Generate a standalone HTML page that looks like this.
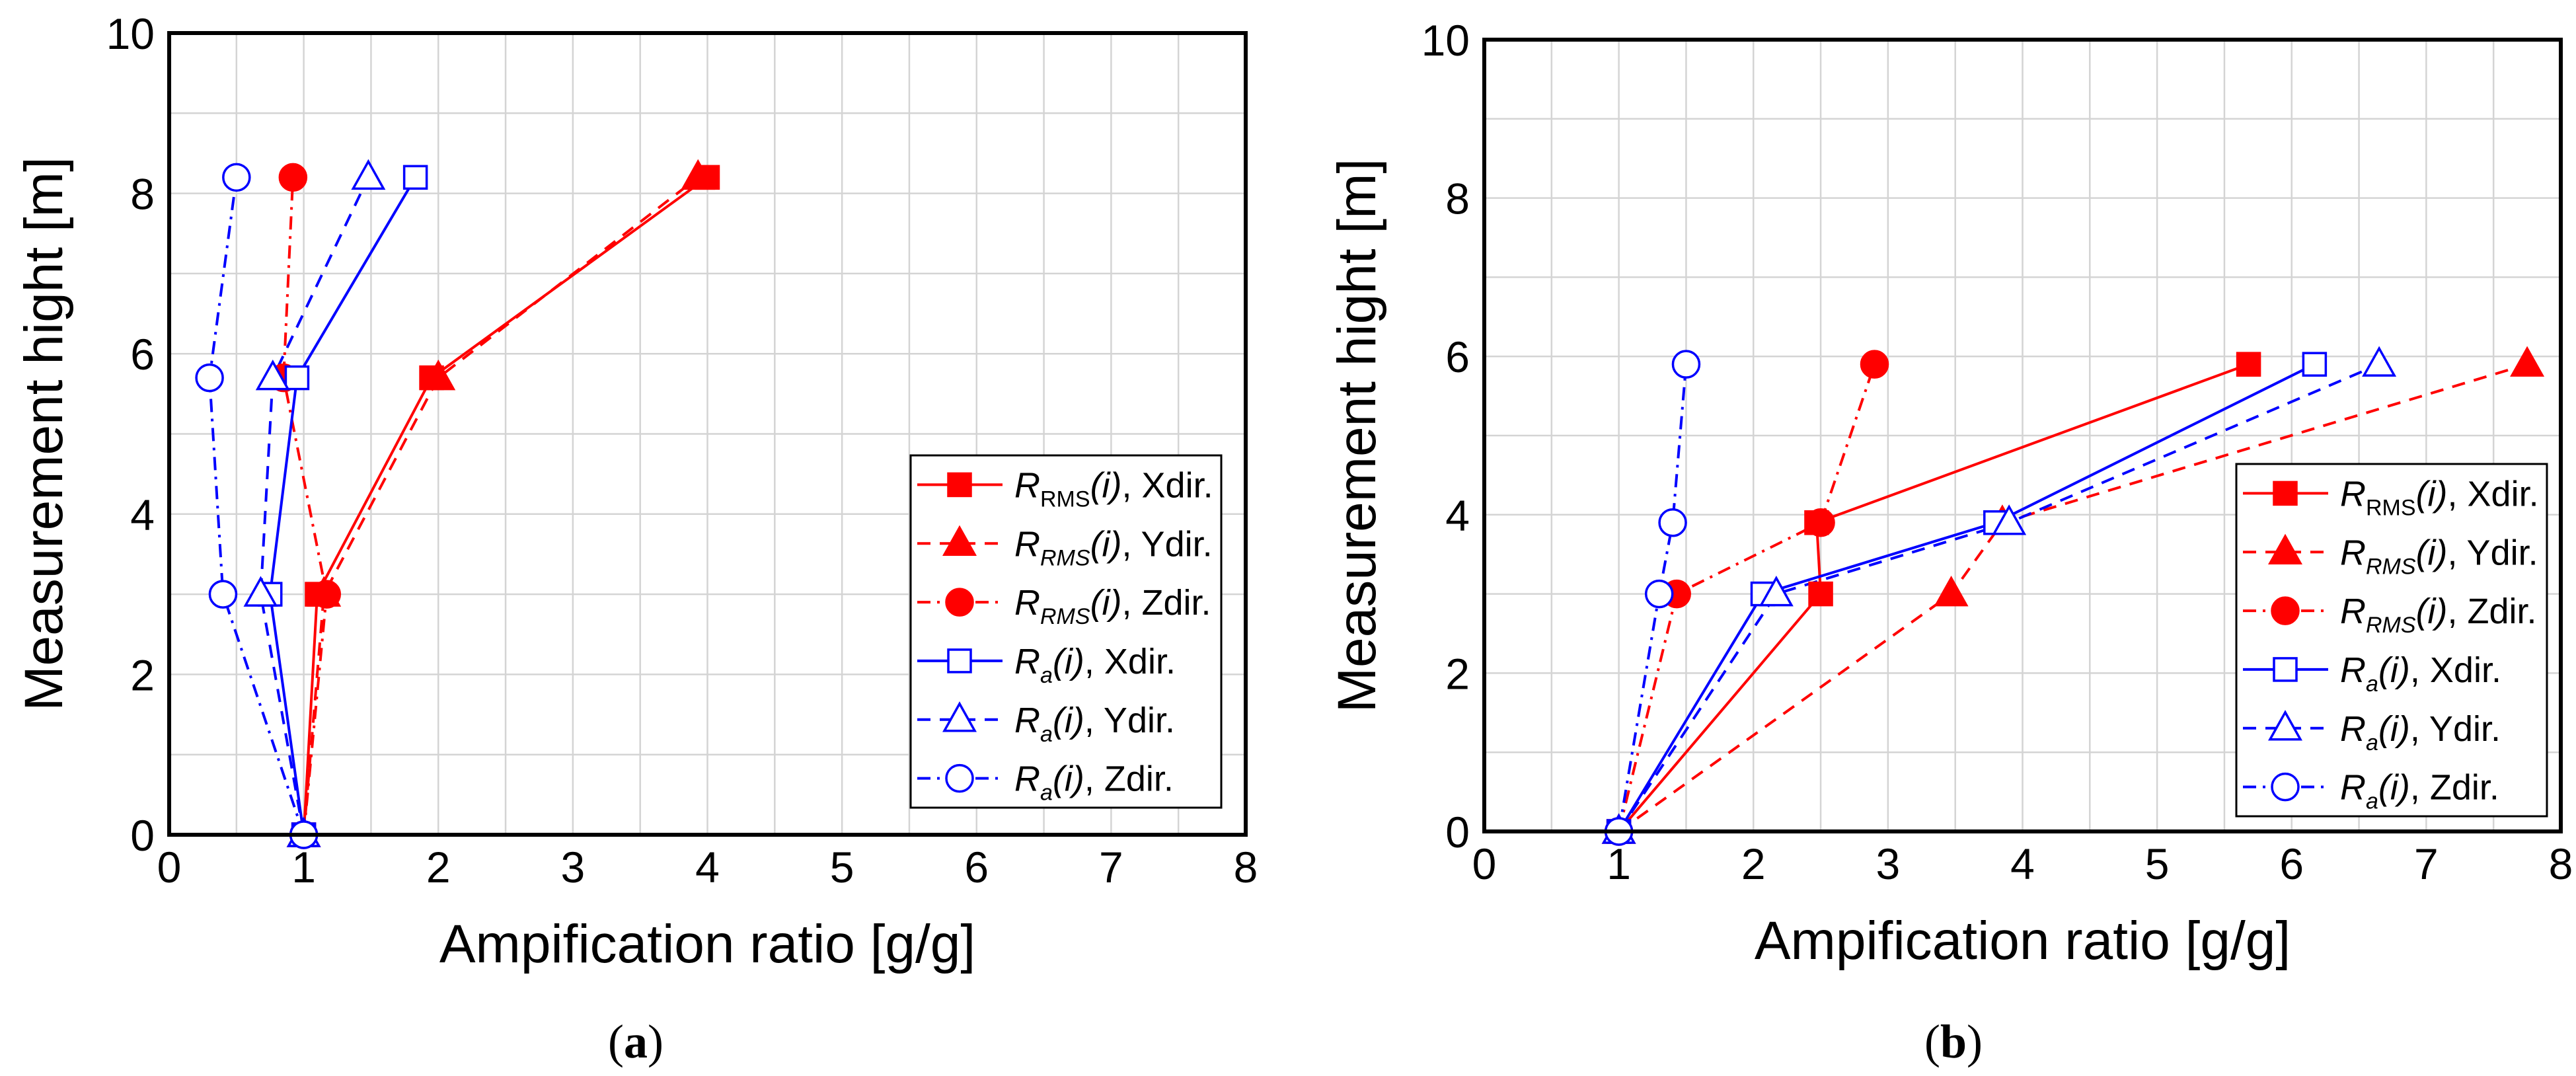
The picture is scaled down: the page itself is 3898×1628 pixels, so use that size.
<!DOCTYPE html>
<html><head><meta charset="utf-8"><style>
html,body{margin:0;padding:0;background:#fff;overflow:hidden}
svg{display:block;font-family:"Liberation Sans",sans-serif}
</style></head><body>
<svg id="s" width="3898" height="1628" viewBox="0 0 3898 1628"></svg>
<script>
const xTicks=[0,1,2,3,4,5,6,7,8];
const yTicks=[0,2,4,6,8,10];
const heightsA=[0,3,5.7,8.2];
const heightsB=[0,3,3.9,5.9];
const aRmsX=[1,1.1,1.95,4.0];
const aRmsY=[1,1.15,2.0,3.93];
const aRmsZ=[1,1.17,0.85,0.92];
const aRaX=[1,0.75,0.95,1.83];
const aRaY=[1,0.68,0.77,1.48];
const aRaZ=[1,0.4,0.3,0.5];
const bRmsX=[1,2.5,2.47,5.68];
const bRmsY=[1,3.47,3.85,7.75];
const bRmsZ=[1,1.43,2.5,2.9];
const bRaX=[1,2.07,3.8,6.17];
const bRaY=[1,2.17,3.9,6.65];
const bRaZ=[1,1.3,1.4,1.5];
const seriesNames=["rms-x","rms-y","rms-z","ra-x","ra-y","ra-z"];

const NS="http://www.w3.org/2000/svg";
const svg=document.getElementById('s');
function mk(tag,attrs,parent){const e=document.createElementNS(NS,tag);for(const k in attrs)e.setAttribute(k,attrs[k]);(parent||svg).appendChild(e);return e;}
const styles=[
 {c:'#ff0000',d:'',m:'sq',f:true},
 {c:'#ff0000',d:'20,14',m:'tri',f:true},
 {c:'#ff0000',d:'20,10,4,10',m:'ci',f:true},
 {c:'#0000ff',d:'',m:'sq',f:false},
 {c:'#0000ff',d:'20,14',m:'tri',f:false},
 {c:'#0000ff',d:'20,10,4,10',m:'ci',f:false}];
function marker(g,t,x,y,c,f){
 const a={fill:f?c:'#fff',stroke:c,'stroke-width':3.5};let e;
 if(t==='sq'){e=mk('rect',Object.assign({x:x-17,y:y-17,width:34,height:34},a),g);}
 else if(t==='tri'){e=mk('polygon',Object.assign({points:`${x},${y-24} ${x-23},${y+17} ${x+23},${y+17}`},a),g);}
 else{e=mk('circle',Object.assign({cx:x,cy:y,r:20},a),g);}
 
 
}
function panel(id,L,R,T,B,heights,data,leg,titleX,cap,capLabel){
 const g=mk('g',{});
 
 
 const sx=v=>L+(R-L)*v/8, sy=v=>B-(B-T)*v/10;
 for(let v=0.5;v<8;v+=0.5){const l=mk('line',{x1:sx(v),x2:sx(v),y1:T,y2:B,stroke:'#d4d4d4','stroke-width':2.5},g);}
 for(let v=1;v<10;v++){const l=mk('line',{x1:L,x2:R,y1:sy(v),y2:sy(v),stroke:'#d4d4d4','stroke-width':2.5},g);}
 xTicks.forEach(v=>{const t=mk('text',{x:sx(v),y:B+72,'font-size':66,'text-anchor':'middle'},g);t.textContent=v;});
 yTicks.forEach(v=>{const t=mk('text',{x:L-22,y:sy(v)+24,'font-size':66,'text-anchor':'end'},g);t.textContent=v;});
 data.forEach((arr,i)=>{const s=styles[i];
  const pl=mk('polyline',{points:arr.map((x,j)=>sx(x)+','+sy(heights[j])).join(' '),fill:'none',stroke:s.c,'stroke-width':4,'stroke-dasharray':s.d},g);
  
  });
 data.forEach((arr,i)=>{const s=styles[i];arr.forEach((x,j)=>marker(g,s.m,sx(x),sy(heights[j]),s.c,s.f));});
 const fr=mk('rect',{x:L,y:T,width:R-L,height:B-T,fill:'none',stroke:'#000','stroke-width':6},g);
 
 const xt=mk('text',{x:(L+R)/2,y:B+193,'font-size':82,'text-anchor':'middle'},g);xt.textContent='Ampification ratio [g/g]';
 
 const yt=mk('text',{x:0,y:0,'font-size':82,'text-anchor':'middle',transform:`translate(${titleX},${(T+B)/2}) rotate(-90)`},g);yt.textContent='Measurement hight [m]';
 
 const c=mk('text',{x:cap,y:1600,'font-size':72,'text-anchor':'middle','font-family':'Liberation Serif, serif'},g);
 c.innerHTML='(<tspan font-weight="bold">'+capLabel+'</tspan>)';
 
 const [lx,ly,lw,lh]=leg;
 const lg=mk('g',{},g);
 
 mk('rect',{x:lx,y:ly,width:lw,height:lh,fill:'#fff',stroke:'#000','stroke-width':3},lg);
 const labels=[['R','RMS',false,'Xdir.'],['R','RMS',true,'Ydir.'],['R','RMS',true,'Zdir.'],['R','a',true,'Xdir.'],['R','a',true,'Ydir.'],['R','a',true,'Zdir.']];
 const step=lh/6;
 labels.forEach((lb,i)=>{const s=styles[i];const yy=ly+step*(i+0.5);
  const e=mk('g',{},lg);
  mk('line',{x1:lx+10,x2:lx+139,y1:yy,y2:yy,stroke:s.c,'stroke-width':4,'stroke-dasharray':s.d},e);
  marker(e,s.m,lx+74,yy,s.c,s.f);
  const t=mk('text',{x:lx+157,y:yy+19,'font-size':54},e);
  t.innerHTML=`<tspan font-style="italic">${lb[0]}</tspan><tspan font-size="34" dy="14" ${lb[2]?'font-style="italic"':''}>${lb[1]}</tspan><tspan dy="-14" font-style="italic">(i)</tspan>, ${lb[3]}`;
 });
}
panel('a',256,1885,50,1263,heightsA,[aRmsX,aRmsY,aRmsZ,aRaX,aRaY,aRaZ],[1378,689,470,533],94,962,'a');
panel('b',2246,3875,60,1258,heightsB,[bRmsX,bRmsY,bRmsZ,bRaX,bRaY,bRaZ],[3384,702,470,533],2081,2956,'b');
</script>
</body></html>
